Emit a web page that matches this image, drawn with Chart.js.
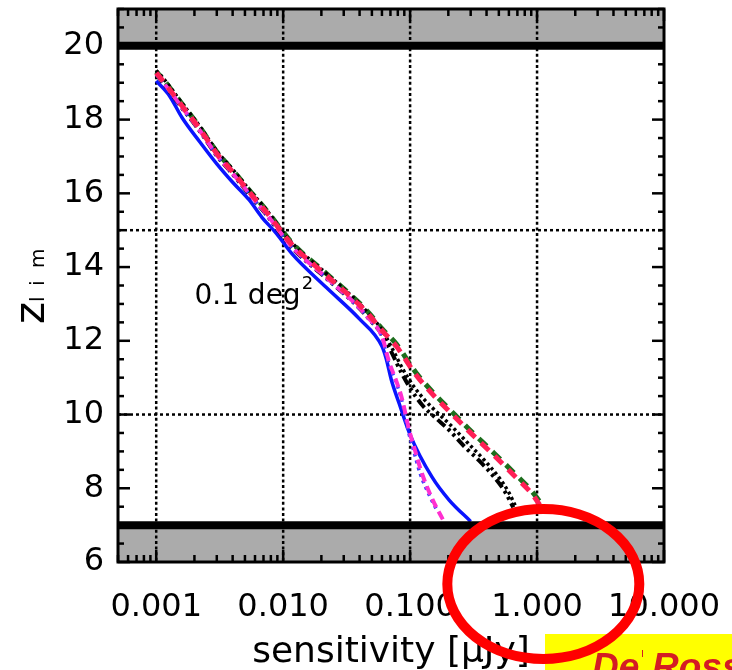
<!DOCTYPE html>
<html>
<head>
<meta charset="utf-8">
<script src="https://cdn.jsdelivr.net/npm/chart.js@4.4.1/dist/chart.umd.min.js"></script>
<style>
  html, body { margin: 0; padding: 0; background: #fff; overflow: hidden; }
  #wrap { width: 732px; height: 670px; position: relative; }
</style>
</head>
<body>
<div id="wrap"><canvas id="c" width="732" height="670"></canvas></div>
<script>
// Limiting redshift vs. sensitivity, 0.1 deg^2 survey

const xTickValues = [0.001, 0.01, 0.1, 1, 10];
const yTickValues = [6, 8, 10, 12, 14, 16, 18, 20];
const xGridValues = [0.001, 0.01, 0.1, 1];
const yGridValues = [10, 15];
const limitLines = [20, 7];
const shadedBands = [[20, 21], [6, 7]];

// blue solid
const blueX = [0.001, 0.00127, 0.0016, 0.0022, 0.003, 0.004, 0.0054, 0.0068, 0.0088, 0.0118, 0.0218, 0.0397, 0.06, 0.065, 0.071, 0.082, 0.1, 0.149, 0.203, 0.30];
const blueZ = [19.05, 18.65, 18.05, 17.4, 16.8, 16.3, 15.82, 15.35, 14.92, 14.35, 13.45, 12.6, 11.85, 11.5, 10.95, 10.3, 9.45, 8.3, 7.68, 7.1];

// red dashed
const redX = [0.001, 0.0011, 0.0016, 0.0022, 0.003, 0.004, 0.0054, 0.0073, 0.0118, 0.0218, 0.0397, 0.0475, 0.06, 0.078, 0.111, 0.16, 0.22, 0.29, 0.44, 0.68, 0.91, 1.05];
const redZ = [19.27, 19.1, 18.37, 17.75, 17.08, 16.58, 16.04, 15.51, 14.6, 13.78, 12.98, 12.7, 12.28, 11.85, 11.08, 10.45, 9.97, 9.55, 8.95, 8.3, 7.85, 7.55];

// green dashed
const greenX = [0.001, 0.0011, 0.0016, 0.0022, 0.003, 0.004, 0.0054, 0.0073, 0.0118, 0.0218, 0.0397, 0.0475, 0.06, 0.078, 0.111, 0.16, 0.22, 0.29, 0.44, 0.68, 0.91, 1.12];
const greenZ = [19.3, 19.15, 18.42, 17.8, 17.13, 16.63, 16.09, 15.56, 14.65, 13.83, 13.03, 12.75, 12.33, 11.91, 11.14, 10.51, 10.03, 9.61, 9.01, 8.37, 7.92, 7.5];

// black dotted
const dotX = [0.001, 0.0011, 0.0016, 0.0022, 0.003, 0.004, 0.0054, 0.0073, 0.0118, 0.0218, 0.0397, 0.0475, 0.06, 0.072, 0.088, 0.104, 0.13, 0.17, 0.21, 0.29, 0.38, 0.5, 0.6, 0.68];
const dotZ = [19.33, 19.18, 18.44, 17.82, 17.15, 16.65, 16.1, 15.57, 14.65, 13.83, 13.02, 12.72, 12.3, 11.8, 11.22, 10.82, 10.4, 10.0, 9.7, 9.2, 8.78, 8.3, 7.88, 7.5];

// black dash-dot
const dashDotX = [0.001, 0.0011, 0.0016, 0.0022, 0.003, 0.004, 0.0054, 0.0073, 0.0118, 0.0218, 0.0397, 0.0475, 0.06, 0.07, 0.085, 0.1, 0.125, 0.16, 0.2, 0.27, 0.35, 0.46, 0.56, 0.65];
const dashDotZ = [19.22, 19.05, 18.31, 17.69, 17.02, 16.52, 15.97, 15.44, 14.52, 13.7, 12.89, 12.59, 12.18, 11.75, 11.15, 10.72, 10.25, 9.9, 9.6, 9.12, 8.75, 8.3, 7.9, 7.48];

// magenta dashed
const magentaX = [0.001, 0.0011, 0.0016, 0.0022, 0.003, 0.004, 0.0054, 0.0073, 0.0118, 0.0218, 0.0397, 0.0475, 0.06, 0.068, 0.078, 0.086, 0.098, 0.111, 0.124, 0.15, 0.188];
const magentaZ = [19.24, 19.07, 18.33, 17.71, 17.04, 16.54, 15.99, 15.46, 14.54, 13.72, 12.9, 12.6, 12.12, 11.45, 10.9, 10.45, 9.6, 8.95, 8.4, 7.7, 7.05];

// blue dotted
const violetX = [0.001, 0.0011, 0.0016, 0.0022, 0.003, 0.004, 0.0054, 0.0073, 0.0118, 0.0218, 0.0397, 0.0475, 0.06, 0.067, 0.077, 0.085, 0.096, 0.108, 0.12, 0.143, 0.16];
const violetZ = [19.23, 19.06, 18.32, 17.7, 17.03, 16.53, 15.98, 15.45, 14.53, 13.71, 12.89, 12.59, 12.1, 11.45, 10.9, 10.45, 9.6, 8.95, 8.4, 7.78, 7.45];

const pts = (xs, zs) => xs.map((v, i) => ({ x: v, y: zs[i] }));

function series(label, xs, zs, color, width, dash, offset) {
  return {
    label,
    data: pts(xs, zs),
    borderColor: color,
    borderWidth: width,
    borderDash: dash,
    borderDashOffset: offset || 0,
    pointRadius: 0,
    fill: false,
    cubicInterpolationMode: 'monotone',
    borderCapStyle: 'butt'
  };
}

const datasets = [
  series('red', redX, redZ, '#ff1f55', 5, [11, 8], 0),
  series('magenta', magentaX, magentaZ, '#ff2fd0', 4, [9, 5], 0),
  series('violet', violetX, violetZ, '#4a3cff', 3.5, [3, 4], 0),
  series('dashdot', dashDotX, dashDotZ, '#000000', 4, [10, 4, 3, 4, 3, 4], 0),
  series('dotted', dotX, dotZ, '#000000', 3.5, [3, 3], 0),
  series('green', greenX, greenZ, '#1d6e1d', 5, [11, 8], 4),
  series('blue', blueX, blueZ, '#0a14ff', 3.5, [], 0)
];

function line(ctx, x1, y1, x2, y2) {
  ctx.beginPath(); ctx.moveTo(x1, y1); ctx.lineTo(x2, y2); ctx.stroke();
}

function xMinorValues() {
  const out = [];
  for (let d = 1e-4; d < 10; d *= 10) {
    for (let m = 2; m <= 9; m++) {
      const v = d * m;
      if (v >= 0.0005 && v <= 10) out.push(v);
    }
  }
  return out;
}

// keep the plot box fixed: no extra room for overhanging tick labels
function noPadding(s) {
  s.paddingTop = 0; s.paddingBottom = 0; s.paddingLeft = 0; s.paddingRight = 0;
}

const decor = {
  id: 'decor',
  beforeDatasetsDraw(chart) {
    const { ctx, chartArea: a, scales: { x, y } } = chart;
    ctx.save();
    ctx.fillStyle = '#ababab';
    for (const [lo, hi] of shadedBands) {
      const y1 = y.getPixelForValue(hi), y2 = y.getPixelForValue(lo);
      ctx.fillRect(a.left, y1, a.right - a.left, y2 - y1);
    }
    ctx.strokeStyle = '#000';
    ctx.lineWidth = 2.5;
    ctx.setLineDash([3, 2.6]);
    for (const v of xGridValues) {
      const px = x.getPixelForValue(v);
      line(ctx, px, a.top, px, a.bottom);
    }
    ctx.setLineDash([3, 3]);
    for (const v of yGridValues) {
      const py = y.getPixelForValue(v);
      line(ctx, a.left, py, a.right, py);
    }
    ctx.restore();
  },
  afterDatasetsDraw(chart) {
    const { ctx, chartArea: a, scales: { x, y } } = chart;
    ctx.save();
    ctx.strokeStyle = '#000';
    // thick limit lines
    ctx.lineWidth = 8;
    for (const v of limitLines) {
      const py = y.getPixelForValue(v);
      line(ctx, a.left, py, a.right, py);
    }
    // inward tick marks
    ctx.lineWidth = 2.5;
    for (let v = 6; v <= 21.001; v += 0.5) {
      const py = y.getPixelForValue(v);
      const len = yTickValues.includes(v) ? 12 : 6;
      line(ctx, a.left, py, a.left + len, py);
      line(ctx, a.right, py, a.right - len, py);
    }
    for (const v of xTickValues) {
      const px = x.getPixelForValue(v);
      line(ctx, px, a.top, px, a.top + 12);
      line(ctx, px, a.bottom, px, a.bottom - 12);
    }
    for (const v of xMinorValues()) {
      const px = x.getPixelForValue(v);
      line(ctx, px, a.top, px, a.top + 7);
      line(ctx, px, a.bottom, px, a.bottom - 7);
    }
    // frame
    ctx.lineWidth = 3;
    ctx.strokeRect(a.left, a.top, a.right - a.left, a.bottom - a.top);
    ctx.restore();
  },
  afterDraw(chart) {
    const { ctx, chartArea: a, scales: { x, y } } = chart;
    ctx.save();
    // survey area note
    ctx.fillStyle = '#000';
    ctx.textBaseline = 'middle';
    ctx.textAlign = 'left';
    ctx.font = '28px "DejaVu Sans"';
    const tx = x.getPixelForValue(0.002), ty = y.getPixelForValue(13.2);
    const main = '0.1 deg';
    ctx.fillText(main, tx, ty);
    const w = ctx.measureText(main).width;
    ctx.font = '18px "DejaVu Sans"';
    ctx.fillText('2', tx + w + 1, ty - 12);

    // y-axis title: z with subscript "l i m", rotated
    ctx.save();
    ctx.translate(44, 324);
    ctx.rotate(-Math.PI / 2);
    ctx.textBaseline = 'alphabetic';
    ctx.font = '42px "DejaVu Sans"';
    ctx.fillText('z', 0, 0);
    ctx.font = '20px "DejaVu Sans"';
    ctx.fillText('l', 22, 0);
    ctx.fillText('i', 38, 0);
    ctx.fillText('m', 56, 0);
    ctx.restore();

    // author tag
    ctx.fillStyle = '#ffff00';
    ctx.fillRect(545, 634, 200, 40);
    ctx.fillStyle = '#d41c24';
    ctx.font = 'italic bold 37px "Liberation Sans"';
    ctx.textBaseline = 'alphabetic';
    ctx.fillText('De', 592, 679);
    ctx.fillText('Rossi', 652, 679);
    ctx.fillRect(642, 650, 1, 7);

    // highlight ring
    const cx = x.getPixelForValue(1.1);
    const cy = a.bottom + 22;
    ctx.strokeStyle = '#ff0000';
    ctx.lineWidth = 10;
    ctx.beginPath();
    ctx.ellipse(cx + 1, cy, 96, 75, 0, 0, Math.PI * 2);
    ctx.stroke();
    ctx.restore();
  }
};

new Chart(document.getElementById('c'), {
  type: 'line',
  data: { datasets },
  plugins: [decor],
  options: {
    responsive: false,
    animation: false,
    events: [],
    layout: { padding: { top: 9, right: 68, left: 0, bottom: 0 } },
    plugins: { legend: { display: false }, tooltip: { enabled: false } },
    scales: {
      x: {
        type: 'logarithmic',
        min: 0.0005,
        max: 10,
        afterBuildTicks: (s) => { s.ticks = xTickValues.map(v => ({ value: v })); },
        afterFit: (s) => { s.height = 108; noPadding(s); },
        grid: { display: false, drawTicks: false },
        border: { display: false },
        ticks: {
          autoSkip: false,
          maxRotation: 0,
          padding: 26,
          color: '#000',
          font: { family: 'DejaVu Sans', size: 32 },
          callback: (v) => Number(v).toFixed(3)
        },
        title: {
          display: true,
          text: 'sensitivity [μJy]',
          color: '#000',
          font: { family: 'DejaVu Sans', size: 36 },
          padding: { top: 0, bottom: -4 }
        }
      },
      y: {
        type: 'linear',
        min: 6,
        max: 21,
        afterBuildTicks: (s) => { s.ticks = yTickValues.map(v => ({ value: v })); },
        afterFit: (s) => { s.width = 118; noPadding(s); },
        grid: { display: false, drawTicks: false },
        border: { display: false },
        ticks: {
          autoSkip: false,
          padding: 14,
          color: '#000',
          font: { family: 'DejaVu Sans', size: 32 }
        }
      }
    }
  }
});
</script>
</body>
</html>
